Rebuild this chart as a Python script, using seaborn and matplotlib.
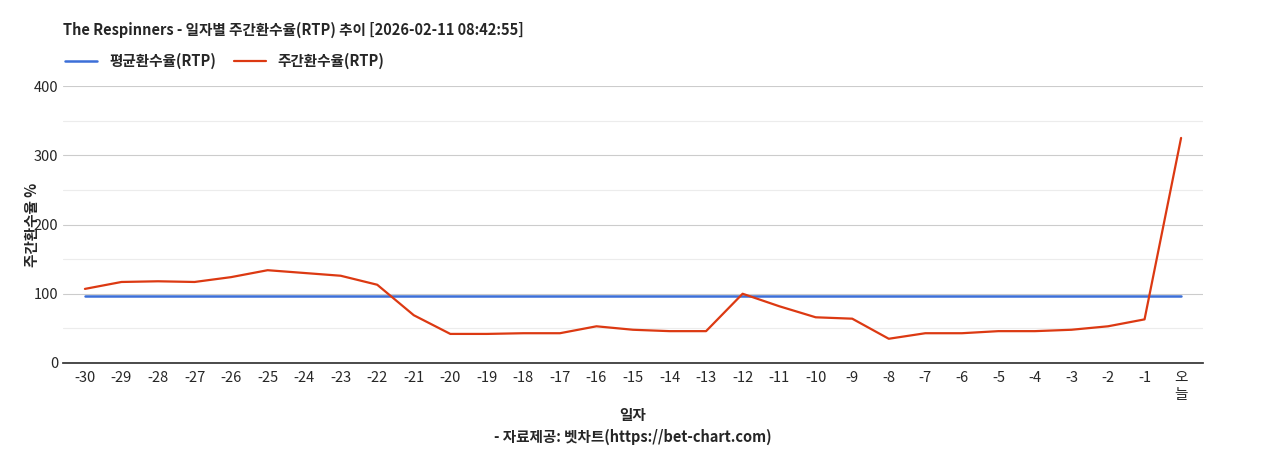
import numpy as np
import pandas as pd
import matplotlib.pyplot as plt
import seaborn as sns

days = [str(d) for d in range(-30, 0)] + ["오\n늘"]
weekly_rtp = [107, 117, 118, 117, 124, 134, 130, 126, 113, 69, 42, 42, 43, 43, 53, 48, 46, 46,
              100, 82, 66, 64, 35, 43, 43, 46, 46, 48, 53, 63, 325]
avg_rtp = 97

sns.set_theme(style="white")
plt.rcParams['font.family'] = ['Noto Sans CJK KR', 'DejaVu Sans']

df = pd.DataFrame({"x": np.arange(len(days)), "rtp": weekly_rtp})

fig = plt.figure(figsize=(12.68, 4.5), dpi=100)
ax = fig.add_axes([63 / 1268, 1 - 363 / 450, 1140 / 1268, 277 / 450])

ax.plot(df["x"], [avg_rtp] * len(df), color="#3c6fd8", lw=1.8, label="평균환수율(RTP)")
sns.lineplot(data=df, x="x", y="rtp", ax=ax, color="#dc3912", lw=1.6, label="주간환수율(RTP)")

ax.set_xlim(-0.6, len(days) - 0.4)
ax.set_ylim(0, 400)
ax.set_yticks([0, 100, 200, 300, 400])
ax.set_yticks([50, 150, 250, 350], minor=True)
ax.grid(True, axis="y", which="major", color="#cccccc", lw=0.8)
ax.grid(True, axis="y", which="minor", color="#ececec", lw=0.8)
ax.set_axisbelow(True)
ax.set_xticks(df["x"])
ax.set_xticklabels(days, fontsize=10.5)
ax.tick_params(axis="y", labelsize=10.5, length=0)
ax.tick_params(axis="x", length=0, pad=6)
for s in ["top", "right", "left"]:
    ax.spines[s].set_visible(False)
ax.spines["bottom"].set_color("#333333")

ax.set_xlabel("일자\n- 자료제공: 벳차트(https://bet-chart.com)", fontsize=10.5, fontweight="bold",
              linespacing=1.4, labelpad=4)
ax.set_ylabel("주간환수율 %", fontsize=10.5, fontweight="bold", labelpad=-2)
ax.yaxis.set_label_coords(-0.02, 0.5)

fig.text(63 / 1268, 1 - 30 / 450, "The Respinners - 일자별 주간환수율(RTP) 추이 [2026-02-11 08:42:55]",
         fontsize=10.5, fontweight="bold", va="center")
ax.legend(loc="lower left", bbox_to_anchor=(-0.003, 1.04), ncol=2, frameon=False,
          handlelength=2.2, columnspacing=1.2, borderaxespad=0,
          prop={"weight": "bold", "size": 10.5})

fig.savefig("out.png", dpi=100)
